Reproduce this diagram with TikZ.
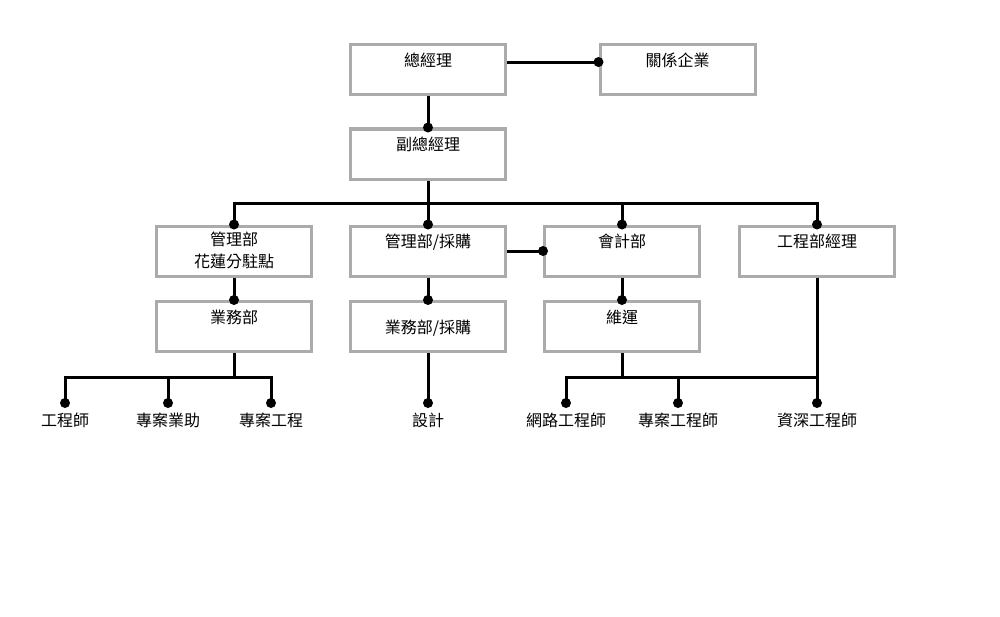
\documentclass[tikz,border=0pt]{standalone}
\usepackage{fontspec}
\newfontfamily\cjk{Noto Sans CJK TC}
\usetikzlibrary{positioning}
\definecolor{boxgray}{HTML}{ABABAB}

\begin{document}
\begin{tikzpicture}[
                    x=0.75pt, y=-0.75pt,
                    box/.style = {draw=boxgray, line width=2.25pt, fill=white, inner sep=0pt,
                                  minimum width=116.25pt, align=center,
                                  text height=16.4pt, text depth=21.1pt},
                    midbox/.style = {box, text height=23.9pt, text depth=13.6pt},
                    twobox/.style = {box, text height=31.1pt, text depth=6.4pt},
                    leaf/.style = {inner sep=0pt},
                    link/.style = {line width=2.25pt, black},
                    every node/.append style = {font=\cjk\fontsize{12}{16.5}\selectfont}
                    ]
\useasboundingbox (0,0) rectangle (1000,617);

% top levels
\node[box] (gm)  at (428,69.5)  {總經理};
\node[box] (aff) at (677.5,69.5) {關係企業};
\node[box] (vgm) at (428,154)   {副總經理};

% departments
\node[twobox] (hl)  at (234,251) {管理部\\花蓮分駐點};
\node[box]    (buy) at (428,251) {管理部/採購};
\node[box]    (acc) at (622,251) {會計部};
\node[box]    (eng) at (817,251) {工程部經理};

\node[box]    (sal)  at (234,326.5) {業務部};
\node[midbox] (sal2) at (428,326.5) {業務部/採購};
\node[box]    (ops)  at (622,326.5) {維運};

% staff
\node[leaf] (l1) at (65,420)  {工程師};
\node[leaf] (l2) at (168,420) {專案業助};
\node[leaf] (l3) at (271,420) {專案工程};
\node[leaf] (l4) at (428,420) {設計};
\node[leaf] (l5) at (566,420) {網路工程師};
\node[leaf] (l6) at (678,420) {專案工程師};
\node[leaf] (l7) at (817,420) {資深工程師};

\coordinate (gmout)  at ([yshift=5.6pt]gm.east);
\coordinate (affin)  at ([yshift=5.6pt]aff.west);
\coordinate (bus)    at (428,203);
\coordinate (salbus) at (234,377.5);
\coordinate (opsbus) at (622,377.5);
\foreach \i/\x in {1/65,2/168,3/271,4/428,5/566,6/678,7/817}
    \coordinate (d\i) at (\x,403);

\draw[link] (gmout) -- (affin);
\draw[link] (gm.south) -- (vgm.north);
\draw[link] (vgm.south) -- (bus);
\draw[link] (hl.north) |- (bus) -| (eng.north);
\draw[link] (bus) -- (buy.north);
\draw[link] (bus) -| (acc.north);
\draw[link] (buy.east) -- (acc.west);
\draw[link] (hl.south) -- (sal.north);
\draw[link] (buy.south) -- (sal2.north);
\draw[link] (acc.south) -- (ops.north);

\draw[link] (sal.south) -- (salbus);
\draw[link] (d1) |- (salbus) -| (d3);
\draw[link] (d2) -- (d2 |- salbus);
\draw[link] (sal2.south) -- (d4);
\draw[link] (ops.south) -- (opsbus);
\draw[link] (d5) |- (opsbus) -- (opsbus -| eng.south);
\draw[link] (d6) -- (d6 |- opsbus);
\draw[link] (eng.south) -- (d7);

% dots
\foreach \n in {affin, vgm.north, hl.north, buy.north, acc.north, eng.north,
                acc.west, sal.north, sal2.north, ops.north,
                d1, d2, d3, d4, d5, d6, d7}
    \fill (\n) circle[radius=3.75pt];
\end{tikzpicture}
\end{document}
